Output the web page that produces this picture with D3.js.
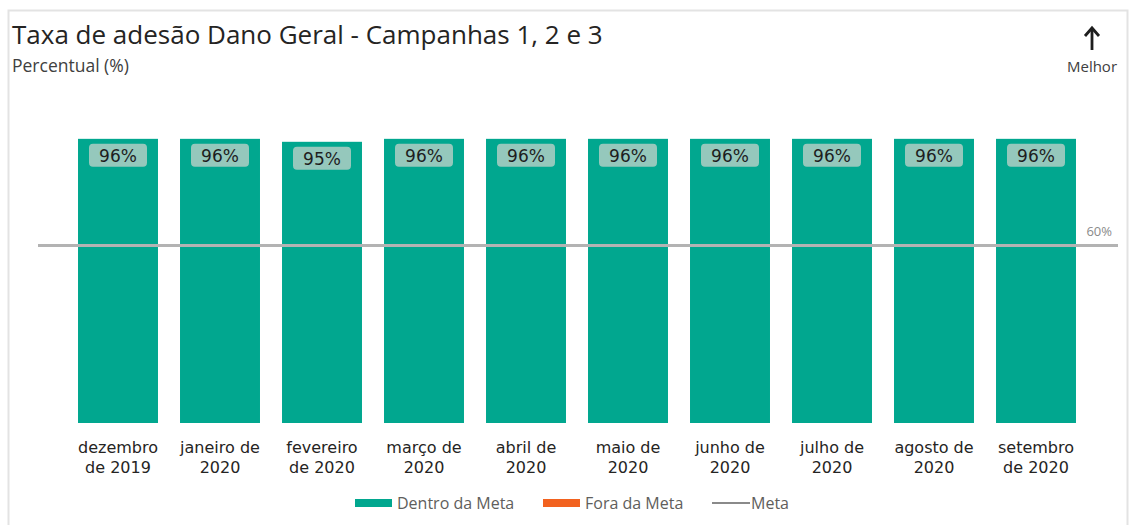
<!DOCTYPE html>
<html>
<head>
<meta charset="utf-8">
<script src="https://cdn.jsdelivr.net/npm/d3@7"></script>
<style>
  html, body { margin: 0; padding: 0; background: #ffffff; }
  svg { display: block; }
  .title { font-family: "Open Sans", "Noto Sans", sans-serif; fill: #252423; }
  .xlab { font-family: "DejaVu Sans", Verdana, sans-serif; fill: #252423; }
  .legend { font-family: "Open Sans", "Noto Sans", sans-serif; fill: #605e5c; }
</style>
</head>
<body>
<div id="chart"></div>
<script>
// chart data
const categories = [
  ["dezembro", "de 2019"],
  ["janeiro de", "2020"],
  ["fevereiro", "de 2020"],
  ["março de", "2020"],
  ["abril de", "2020"],
  ["maio de", "2020"],
  ["junho de", "2020"],
  ["julho de", "2020"],
  ["agosto de", "2020"],
  ["setembro", "de 2020"]
];
const adesao = [96, 96, 95, 96, 96, 96, 96, 96, 96, 96];
const meta = 60;
const legendItems = ["Dentro da Meta", "Fora da Meta", "Meta"];

const width = 1133, height = 525;
const colDentro = "#01a78f", colFora = "#f2621f", colMeta = "#b3b3b3";

const svg = d3.select("#chart").append("svg")
  .attr("width", width)
  .attr("height", height);

// card frame
svg.append("rect")
  .attr("x", 8.5).attr("y", 10.5)
  .attr("width", 1119).attr("height", 530)
  .attr("fill", "#fff")
  .attr("stroke", "#e3e3e3")
  .attr("stroke-width", 2);

// title
svg.append("text").attr("class", "title")
  .attr("x", 12).attr("y", 44)
  .style("font-size", "26px")
  .style("font-weight", 500)
  .text("Taxa de adesão Dano Geral - Campanhas 1, 2 e 3");

svg.append("text").attr("class", "title")
  .attr("x", 12).attr("y", 72)
  .style("font-size", "17.5px")
  .style("fill", "#404040")
  .text("Percentual (%)");

// "better" arrow
const arrow = svg.append("g").attr("transform", "translate(1092, 0)");
arrow.append("line")
  .attr("x1", 0).attr("x2", 0).attr("y1", 50).attr("y2", 29)
  .attr("stroke", "#1e1e1e").attr("stroke-width", 2.8);
arrow.append("path")
  .attr("d", "M-7,36 L0,28 L7,36")
  .attr("fill", "none").attr("stroke", "#1e1e1e").attr("stroke-width", 2.8);
arrow.append("text").attr("class", "legend")
  .attr("x", 0).attr("y", 72)
  .attr("text-anchor", "middle")
  .style("font-size", "15px")
  .style("fill", "#404040")
  .text("Melhor");

// scales
const xScale = d3.scaleBand()
  .domain(d3.range(categories.length))
  .range([67, 1087])
  .paddingInner(0.216)
  .paddingOuter(0.108);

const yScale = d3.scaleLinear().domain([0, 100]).range([423, 127]);

// bars
const bars = svg.append("g").attr("class", "bars");
bars.selectAll("rect")
  .data(adesao)
  .enter().append("rect")
  .attr("x", (d, i) => xScale(i))
  .attr("y", d => yScale(d))
  .attr("width", xScale.bandwidth())
  .attr("height", d => yScale(0) - yScale(d))
  .attr("fill", d => d >= meta ? colDentro : colFora);

// target line
svg.append("line")
  .attr("x1", 38).attr("x2", 1118)
  .attr("y1", yScale(meta)).attr("y2", yScale(meta))
  .attr("stroke", colMeta).attr("stroke-width", 3);

svg.append("text").attr("class", "legend")
  .attr("x", 1112).attr("y", yScale(meta) - 9)
  .attr("text-anchor", "end")
  .style("font-size", "13px")
  .style("fill", "#8a8a8a")
  .text(meta + "%");

// data labels
const labels = svg.append("g").attr("class", "labels");
const lab = labels.selectAll("g")
  .data(adesao)
  .enter().append("g")
  .attr("transform", (d, i) => `translate(${xScale(i) + xScale.bandwidth() / 2}, ${yScale(d) + 17})`);

lab.append("rect")
  .attr("x", -29).attr("y", -12)
  .attr("width", 58).attr("height", 23)
  .attr("rx", 4)
  .attr("fill", "#95c8bc");

lab.append("text").attr("class", "xlab")
  .attr("text-anchor", "middle")
  .attr("y", 6)
  .style("font-size", "17px")
  .style("fill", "#1e1e1e")
  .text(d => d + "%");

// x axis labels
const xl = svg.append("g").attr("class", "axis-x");
categories.forEach((c, i) => {
  const t = xl.append("text").attr("class", "xlab")
    .attr("text-anchor", "middle")
    .style("font-size", "16px");
  c.forEach((line, j) => {
    t.append("tspan")
      .attr("x", xScale(i) + xScale.bandwidth() / 2)
      .attr("y", 453 + j * 20)
      .text(line);
  });
});

// legend
const lg = svg.append("g").attr("class", "legend-g");
const legendX = [355, 543, 712];
legendItems.forEach((name, i) => {
  const g = lg.append("g").attr("transform", `translate(${legendX[i]}, 503)`);
  if (i < 2) {
    g.append("rect")
      .attr("x", 0).attr("y", -4)
      .attr("width", 37).attr("height", 8)
      .attr("fill", i === 0 ? colDentro : colFora);
  } else {
    g.append("line")
      .attr("x1", 0).attr("x2", 38)
      .attr("y1", 0).attr("y2", 0)
      .attr("stroke", "#8a8a8a").attr("stroke-width", 2);
  }
  g.append("text").attr("class", "legend")
    .attr("x", i < 2 ? 42 : 39).attr("y", 6)
    .style("font-size", "16px")
    .text(name);
});
</script>
</body>
</html>
